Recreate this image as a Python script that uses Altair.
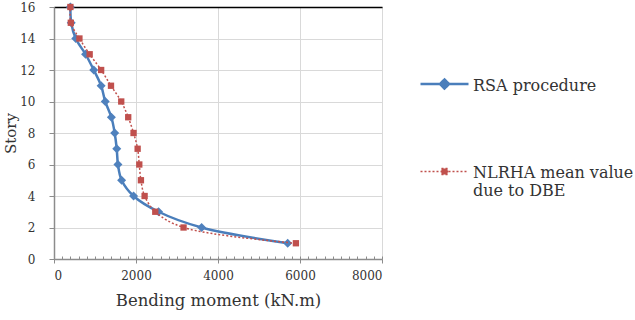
import altair as alt
import pandas as pd

# Story levels and bending moments (kN.m) for the two analyses
story = list(range(1, 17))
rsa_moment = [5700, 3600, 2550, 1940, 1650, 1560, 1530, 1480, 1400, 1250, 1150, 970, 770, 530, 420, 400]
nlrha_moment = [5900, 3160, 2470, 2210, 2120, 2080, 2040, 1940, 1810, 1640, 1390, 1150, 870, 620, 410, 400]
series = ["RSA procedure", "NLRHA mean value due to DBE"]
x_ticks = [0, 2000, 4000, 6000, 8000]
x_minor = list(range(0, 8001, 200))
y_ticks = list(range(0, 17, 2))

FONT = "DejaVu Serif"
BLUE = "#4a7ebb"
RED = "#c0504d"
AXIS_GREY = "#8c8c8c"
TEXT = "#333333"

df = pd.DataFrame({
    "story": story * 2,
    "moment": rsa_moment + nlrha_moment,
    "series": [series[0]] * len(story) + [series[1]] * len(story),
})

x_scale = alt.Scale(domain=[0, 8000], nice=False, zero=False)
y_scale = alt.Scale(domain=[0, 16], nice=False, zero=False)

label_expr = ("datum.label == 'NLRHA mean value due to DBE' "
              "? ['NLRHA mean value', 'due to DBE'] : datum.label")

# one legend: line segment plus marker, both lifted onto the first text line
key = alt.Legend(
    title=None, orient="none", legendX=365, legendY=58, padding=0,
    symbolSize=2304, symbolOpacity=1,
    labelFont=FONT, labelFontSize=16, labelColor=TEXT,
    labelExpr=label_expr, labelLimit=400,
    labelBaseline="alphabetic", labelOffset=3, rowPadding=59,
)
key_paths = [
    "M-1,-0.27H1M0,-0.46L0.19,-0.27L0,-0.08L-0.19,-0.27Z",
    "M-1,-0.27H1M-0.125,-0.395H0.125V-0.145H-0.125Z",
]

main_x_axis = alt.Axis(
    values=x_ticks, format="d", grid=True, gridColor="#d9d9d9", gridWidth=1,
    domainColor=AXIS_GREY, domainWidth=1.5, tickColor=AXIS_GREY, tickSize=4,
    labelFont=FONT, labelFontSize=12, labelColor=TEXT, labelPadding=7,
    title="Bending moment (kN.m)", titleFont=FONT, titleFontSize=16.5,
    titleFontWeight="normal", titleColor=TEXT, titlePadding=11,
)
y_axis = alt.Axis(
    values=y_ticks, format="d", grid=True, gridColor="#d9d9d9", gridWidth=1,
    domainColor=AXIS_GREY, domainWidth=1.5, tickColor=AXIS_GREY, tickSize=5,
    labelFont=FONT, labelFontSize=12, labelColor=TEXT, labelPadding=14,
    title="Story", titleFont=FONT, titleFontSize=15, titleFontWeight="normal",
    titleColor=TEXT, titlePadding=1,
)
minor_axis = alt.Axis(
    orient="top", offset=-252, values=x_minor, labels=False, domain=False,
    grid=False, tickSize=3, tickColor=AXIS_GREY, title=None,
)
top_axis = alt.Axis(
    orient="top", labels=False, ticks=False, grid=False,
    domainColor="#000000", domainWidth=1.5, title=None,
)


def series_data(i):
    return alt.Chart(df).transform_filter(alt.datum.series == series[i])


rsa_line = series_data(0).mark_line(
    interpolate="catmull-rom", color=BLUE, strokeWidth=2.5
).encode(
    x=alt.X("moment:Q", scale=x_scale, axis=main_x_axis),
    y=alt.Y("story:Q", scale=y_scale, axis=y_axis),
    order=alt.Order("story:Q"),
)

nlrha_line = series_data(1).mark_line(
    interpolate="catmull-rom", color=RED, strokeWidth=1.5, strokeDash=[2, 2]
).encode(
    x=alt.X("moment:Q", scale=x_scale, axis=None),
    y=alt.Y("story:Q", scale=y_scale, axis=None),
    order=alt.Order("story:Q"),
)

rsa_points = series_data(0).mark_point(
    shape="diamond", filled=True, size=81, opacity=1, color="#4f81bd"
).encode(
    x=alt.X("moment:Q", scale=x_scale, axis=minor_axis),
    y=alt.Y("story:Q", scale=y_scale, axis=None),
)

nlrha_points = series_data(1).mark_point(
    shape="square", filled=True, size=40, opacity=1, color=RED
).encode(
    x=alt.X("moment:Q", scale=x_scale, axis=top_axis),
    y=alt.Y("story:Q", scale=y_scale, axis=None),
)

# invisible layer that only carries the legend
legend_layer = alt.Chart(df).mark_point(filled=True, opacity=0).encode(
    x=alt.X("moment:Q", scale=x_scale, axis=None),
    y=alt.Y("story:Q", scale=y_scale, axis=None),
    stroke=alt.Stroke("series:N", scale=alt.Scale(domain=series, range=[BLUE, RED]), legend=key),
    fill=alt.Fill("series:N", scale=alt.Scale(domain=series, range=[BLUE, RED]), legend=key),
    shape=alt.Shape("series:N", scale=alt.Scale(domain=series, range=key_paths), legend=key),
    strokeDash=alt.StrokeDash("series:N", scale=alt.Scale(domain=series, range=[[1, 0], [2, 2]]),
                              legend=key),
    strokeWidth=alt.StrokeWidth("series:N", scale=alt.Scale(domain=series, range=[2.5, 1.5]),
                                legend=key),
)

chart = alt.layer(
    rsa_line, rsa_points, nlrha_line, nlrha_points, legend_layer
).resolve_axis(
    x="independent", y="independent"
).properties(
    width=328, height=252,
    autosize=alt.AutoSizeParams(type="none"),
    padding={"left": 54, "top": 7, "right": 253, "bottom": 61},
).configure_view(stroke="#a6a6a6", strokeWidth=1)

chart.save("out.html", embed_options={"renderer": "svg", "actions": False})
